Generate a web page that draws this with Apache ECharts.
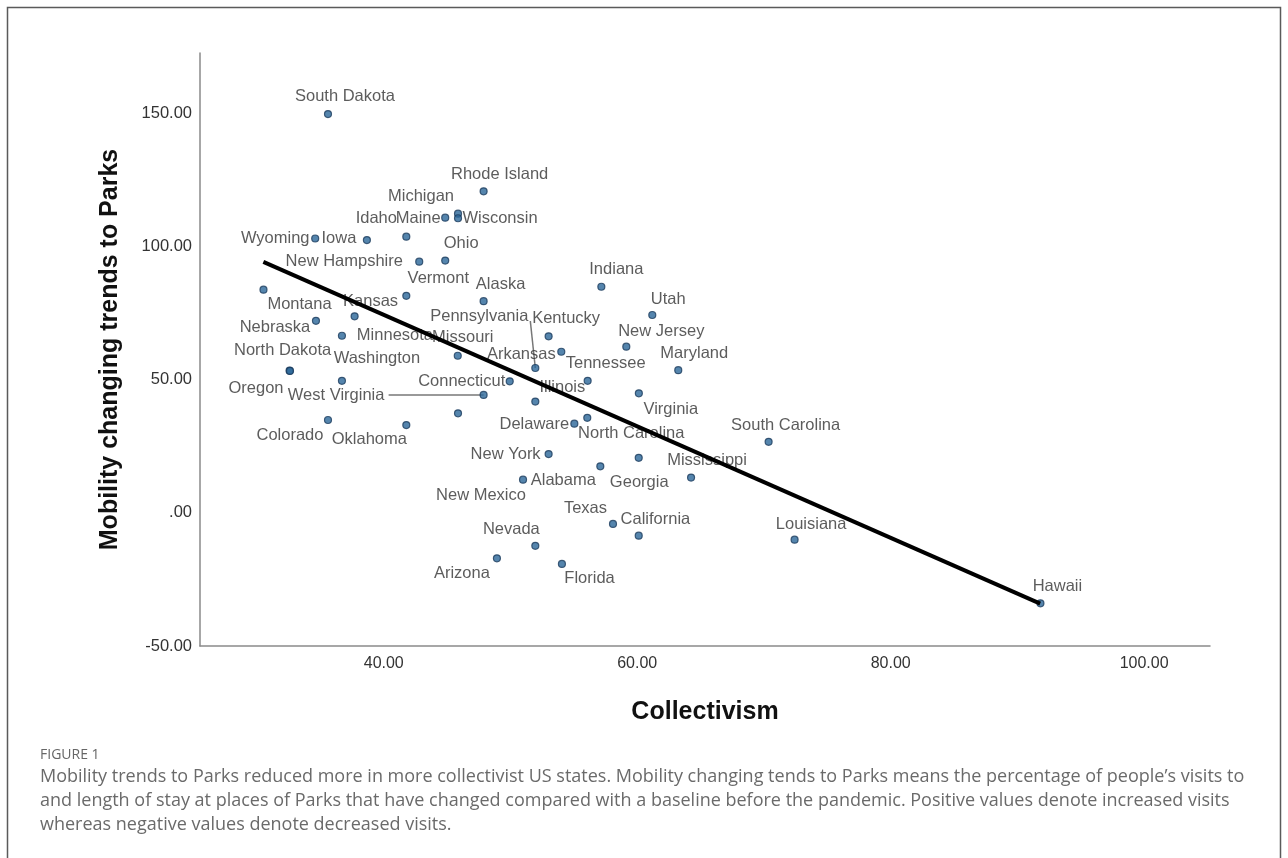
<!DOCTYPE html>
<html>
<head>
<meta charset="utf-8">
<script src="https://cdn.jsdelivr.net/npm/echarts@6/dist/echarts.min.js"></script>
<style>
html,body{margin:0;padding:0;background:#fff;}
#chart{width:1288px;height:858px;}
</style>
</head>
<body>
<div id="chart"></div>
<script>
// ---- data ----
const states = ['South Dakota','Rhode Island','Maine','Michigan','Wisconsin','Wyoming','Iowa','Idaho','New Hampshire','Ohio',
  'Vermont','Alaska','Indiana','Utah','Montana','Kansas','Nebraska','Minnesota','Kentucky','Pennsylvania',
  'New Jersey','Arkansas','Missouri','Maryland','Tennessee','North Dakota','Oregon','Washington','West Virginia','Connecticut',
  'Illinois','Virginia','Massachusetts','Colorado','Oklahoma','North Carolina','Delaware','New York','Georgia','Alabama',
  'Mississippi','New Mexico','Texas','California','Nevada','Arizona','Florida','South Carolina','Louisiana','Hawaii'];
const collectivism = [35.6,47.88,44.85,45.86,45.86,34.59,38.67,41.78,42.8,44.85,
  41.78,47.88,57.17,61.19,30.51,37.7,34.65,36.7,53.01,51.96,
  59.14,54.01,45.84,63.24,56.09,32.57,32.6,36.7,47.88,49.94,
  51.96,60.13,45.86,35.6,41.78,56.06,55.04,53.01,60.12,57.09,
  64.25,50.99,58.09,60.12,51.96,48.93,54.06,70.37,72.42,91.82];
const parksMobility = [149.6,120.6,110.7,112.2,110.5,102.9,102.3,103.6,94.2,94.6,
  81.4,79.4,84.8,74.2,83.7,73.7,72.0,66.4,66.2,54.3,
  62.3,60.4,58.9,53.5,49.5,53.3,53.2,49.5,44.2,49.3,
  41.7,44.8,37.3,34.8,32.9,35.6,33.4,22.0,20.6,17.4,
  13.2,12.4,-4.2,-8.6,-12.4,-17.1,-19.2,26.6,-10.1,-34.0];
const fitLineX = [30.5, 91.8];
const fitLineY = [94.1, -34.1];
const xTicks = [40, 60, 80, 100];
const yTicks = [-50, 0, 50, 100, 150];
const unlabeled = ['Massachusetts'];

// ---- label placement (style, pixels relative to the dot) ----
const labelOffsets = {
  'South Dakota':[17,-17.6],'Rhode Island':[16,-17],'Maine':[-27,1],'Michigan':[-37,-17],'Wisconsin':[42,0],
  'Wyoming':[-40,0],'Iowa':[-28,-2],'Idaho':[-30,-18],'New Hampshire':[-75,0],'Ohio':[16,-17],
  'Vermont':[32,-17],'Alaska':[17,-16.5],'Indiana':[15,-17],'Utah':[16,-16],'Montana':[36,15],
  'Kansas':[16,-15],'Nebraska':[-41,7],'Minnesota':[53,0],'Kentucky':[17.5,-17.4],'Pennsylvania':[-56,-52],
  'New Jersey':[35,-15],'Arkansas':[-40,3],'Missouri':[5,-18],'Maryland':[16,-17],'Tennessee':[18,-17],
  'North Dakota':[-7,-20],'Oregon':[-34,17],'Washington':[35,-22],'West Virginia':[-147.5,0.7],'Connecticut':[-48,0],
  'Illinois':[27,-14],'Virginia':[32,16],'Colorado':[-38,15],'Oklahoma':[-37,14],'North Carolina':[44,16],
  'Delaware':[-40,1],'New York':[-43,0],'Georgia':[0.5,25],'Alabama':[-37,14.5],'Mississippi':[16,-17],
  'New Mexico':[-42,16],'Texas':[-27.5,-15],'California':[16.7,-16.7],'Nevada':[-24,-16.7],'Arizona':[-35,15.6],
  'Florida':[27.6,15],'South Carolina':[17,-16],'Louisiana':[16.5,-15.7],'Hawaii':[17,-16.7]
};
const leaderLines = [
  {name:'Pennsylvania', dx:-5, dy:-47},
  {name:'West Virginia', dx:-95, dy:0}
];

const chart = echarts.init(document.getElementById('chart'));

const scatterData = states.map((s, i) => {
  const off = labelOffsets[s];
  const item = { name: s, value: [collectivism[i], parksMobility[i]] };
  if (unlabeled.indexOf(s) >= 0 || !off) {
    item.label = { show: false };
  } else {
    item.label = { offset: off };
  }
  return item;
});

const leaderData = leaderLines.map(l => {
  const i = states.indexOf(l.name);
  return [collectivism[i], parksMobility[i]];
});

const fitData = fitLineX.map((x, i) => [x, fitLineY[i]]);

const fmt = v => (v === 0 ? '.00' : v.toFixed(2));

const option = {
  animation: false,
  backgroundColor: '#ffffff',
  grid: { left: 200, right: 78, top: 53, bottom: 212, containLabel: false },
  xAxis: {
    type: 'value', min: 25.5, max: 105.2,
    name: 'Collectivism', nameLocation: 'middle', nameGap: 54,
    nameTextStyle: { fontFamily: 'Liberation Sans', fontWeight: 'bold', fontSize: 25, color: '#111' },
    axisLine: { show: true, onZero: false, lineStyle: { color: '#8a8a8a', width: 1.5 } },
    axisTick: { show: false },
    splitLine: { show: false },
    axisLabel: { customValues: xTicks, formatter: fmt, margin: 10, fontFamily: 'Liberation Sans', fontSize: 16, color: '#333' }
  },
  yAxis: {
    type: 'value', min: -50, max: 172.5,
    name: 'Mobility changing trends to Parks', nameLocation: 'middle', nameGap: 77,
    nameTextStyle: { fontFamily: 'Liberation Sans', fontWeight: 'bold', fontSize: 25, color: '#111' },
    axisLine: { show: true, onZero: false, lineStyle: { color: '#8a8a8a', width: 1.5 } },
    axisTick: { show: false },
    splitLine: { show: false },
    axisLabel: { customValues: yTicks, formatter: fmt, margin: 8, fontFamily: 'Liberation Sans', fontSize: 16.5, color: '#333' }
  },
  series: [
    {
      type: 'scatter', z: 2,
      symbol: 'circle', symbolSize: 7,
      itemStyle: { color: '#2b6699', borderColor: '#1a3b5c', borderWidth: 1.2 },
      label: {
        show: true, position: 'inside', formatter: '{b}',
        fontFamily: 'Liberation Sans', fontSize: 16.5, color: '#333'
      },
      emphasis: { disabled: true },
      data: scatterData
    },
    {
      type: 'custom', z: 1, silent: true,
      renderItem: function (params, api) {
        const p = api.coord([api.value(0), api.value(1)]);
        const l = leaderLines[params.dataIndex];
        return {
          type: 'line',
          shape: { x1: p[0], y1: p[1], x2: p[0] + l.dx, y2: p[1] + l.dy },
          style: { stroke: '#777', lineWidth: 1.5 }
        };
      },
      data: leaderData
    },
    {
      type: 'line', z: 5, silent: true,
      showSymbol: false, symbol: 'none',
      lineStyle: { color: '#000', width: 4 },
      data: fitData
    }
  ],
  graphic: [
    { type: 'rect', shape: { x: 7.5, y: 7.5, width: 1273, height: 900 },
      style: { fill: 'none', stroke: '#5a5a5a', lineWidth: 1.5 }, silent: true },
    { type: 'text', x: 40, y: 755,
      style: { text: 'FIGURE 1', font: '14px "Open Sans"', fill: '#666', textVerticalAlign: 'middle' } },
    { type: 'text', x: 40, y: 777,
      style: { text: 'Mobility trends to Parks reduced more in more collectivist US states. Mobility changing tends to Parks means the percentage of people\u2019s visits to', font: '18px "Open Sans"', fill: '#6a6a6a', textVerticalAlign: 'middle' } },
    { type: 'text', x: 40, y: 801,
      style: { text: 'and length of stay at places of Parks that have changed compared with a baseline before the pandemic. Positive values denote increased visits', font: '18px "Open Sans"', fill: '#6a6a6a', textVerticalAlign: 'middle' } },
    { type: 'text', x: 40, y: 825,
      style: { text: 'whereas negative values denote decreased visits.', font: '18px "Open Sans"', fill: '#6a6a6a', textVerticalAlign: 'middle' } }
  ]
};
chart.setOption(option);
</script>
</body>
</html>
